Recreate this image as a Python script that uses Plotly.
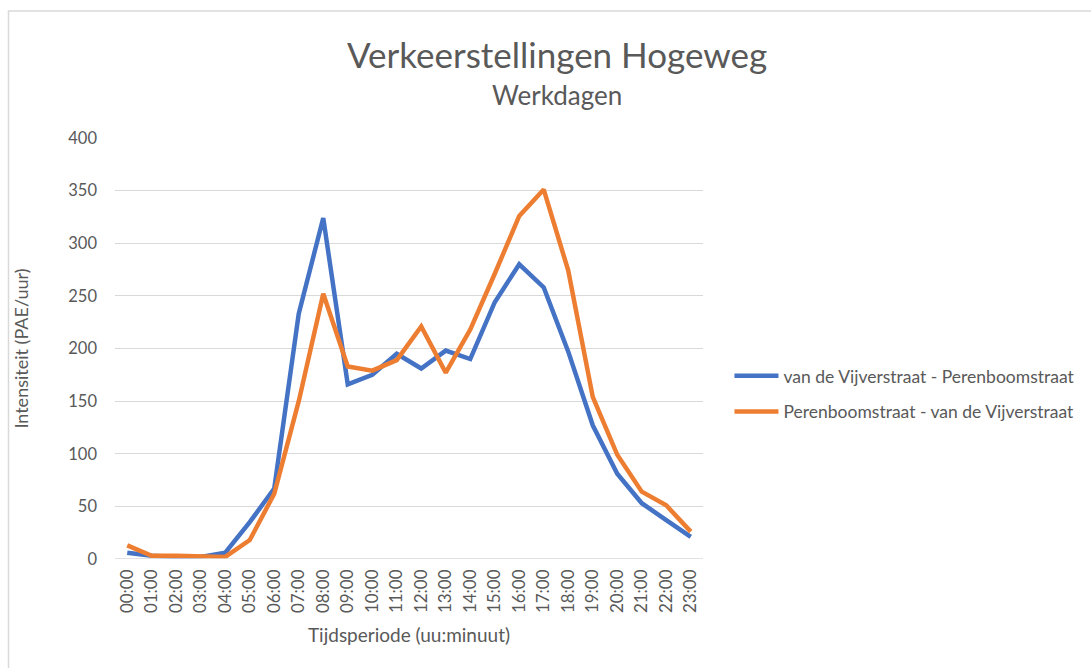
import plotly.graph_objects as go

# Uurlijkse intensiteiten op werkdagen (PAE/uur)
uren = [f"{h:02d}:00" for h in range(24)]
vijver_peren = [6, 3, 2, 2, 6, 35, 67, 233, 324, 166, 175, 195, 181, 198, 190,
                244, 280, 258, 197, 127, 81, 53, 37, 21]
peren_vijver = [13, 3, 3, 3, 2, 18, 62, 150, 252, 183, 179, 189, 221, 177, 218,
                271, 326, 351, 274, 154, 99, 64, 51, 26]

serie_namen = ["van de Vijverstraat - Perenboomstraat",
               "Perenboomstraat - van de Vijverstraat"]
kleuren = ["#4472C4", "#ED7D31"]

FONT = "Lato"
GRIJS = "#595959"

fig = go.Figure()
for i, (naam, waarden) in enumerate(zip(serie_namen, [vijver_peren, peren_vijver])):
    fig.add_trace(go.Scatter(
        x=uren, y=waarden, mode="lines", name=naam,
        legendgroup=f"g{i}",
        line=dict(color=kleuren[i], width=4.5),
    ))

fig.update_layout(
    width=1091, height=668,
    margin=dict(l=115, r=388, t=138, b=109, autoexpand=False),
    paper_bgcolor="white", plot_bgcolor="white",
    font=dict(family=FONT, color=GRIJS, size=16),
    showlegend=True,
    legend=dict(
        x=1.045, y=0.392, xanchor="left", yanchor="middle",
        font=dict(size=17.5, color=GRIJS, family=FONT),
        tracegroupgap=10, itemwidth=44,
        bgcolor="rgba(0,0,0,0)",
    ),
    xaxis=dict(
        type="category", range=[-0.5, 23.5],
        tickangle=-90, showgrid=False, zeroline=False,
        showline=False, ticks="", ticklabelstandoff=6,
        tickfont=dict(size=17, color=GRIJS),
        title=dict(text="Tijdsperiode (uu:minuut)", font=dict(size=19, color=GRIJS),
                   standoff=16),
    ),
    yaxis=dict(
        range=[0, 400], dtick=50, showgrid=True,
        gridcolor="#D9D9D9", gridwidth=1.3, zeroline=False,
        showline=False, ticks="", ticklabelstandoff=17,
        tickfont=dict(size=16.5, color=GRIJS),
        title=dict(text="Intensiteit (PAE/uur)", font=dict(size=18, color=GRIJS),
                   standoff=34),
    ),
)

# Basislijn onder de grafiek
fig.add_shape(type="line", xref="paper", yref="y", x0=0, x1=1, y0=0, y1=0,
              line=dict(color="#D9D9D9", width=1.3))

# Kader rond het diagramgebied
fig.add_shape(type="rect", xref="paper", yref="paper",
              x0=(8.5 - 115) / 588, x1=(1100 - 115) / 588,
              y0=(559 - 680) / 421, y1=(559 - 11) / 421,
              line=dict(color="#D9D9D9", width=1.5), fillcolor="rgba(0,0,0,0)",
              layer="below")

# Titel en ondertitel
fig.add_annotation(text="Verkeerstellingen Hogeweg", xref="paper", yref="paper",
                   x=(557 - 115) / 588, y=(559 - 54) / 421, showarrow=False,
                   xanchor="center", yanchor="middle",
                   font=dict(size=35, color=GRIJS, family=FONT))
fig.add_annotation(text="Werkdagen", xref="paper", yref="paper",
                   x=(557 - 115) / 588, y=(559 - 95) / 421, showarrow=False,
                   xanchor="center", yanchor="middle",
                   font=dict(size=26, color=GRIJS, family=FONT))

fig.write_html("out.html")
